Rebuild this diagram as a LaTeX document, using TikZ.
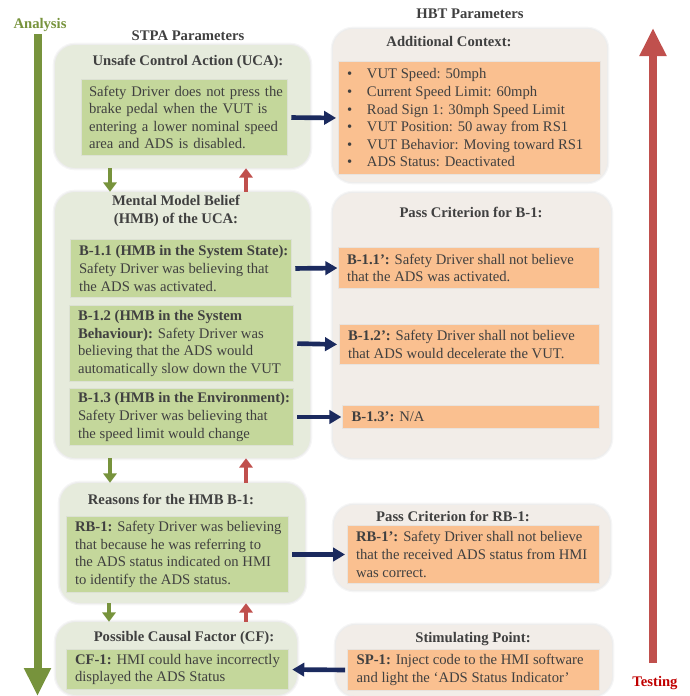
\documentclass[tikz,border=0pt]{standalone}
\usepackage{fontspec}
\setmainfont{Liberation Serif}
\usetikzlibrary{arrows.meta,fit}
\definecolor{ink}{HTML}{404040}
\definecolor{stpaPanel}{HTML}{E6EBDC}
\definecolor{stpaCell}{HTML}{C4D79B}
\definecolor{hbtPanel}{HTML}{F2EDE8}
\definecolor{hbtCell}{HTML}{FAC090}
\definecolor{navy}{HTML}{1B2A5E}
\definecolor{olive}{HTML}{77933C}
\definecolor{brick}{HTML}{C0504D}
\definecolor{testred}{HTML}{C00000}
\begin{document}
\begin{tikzpicture}[x=0.75pt,y=-0.75pt,
  every node/.style={font=\fontsize{11}{13.2}\selectfont, text=ink},
  % soft edge round the rounded panels
  halo/.style={preaction={draw=black, draw opacity=0.035, line width=3.5pt},
               preaction={draw=black, draw opacity=0.035, line width=1.8pt}},
  panel/.style={rounded corners=15pt, inner sep=0pt, halo},
  stpa/.style={panel, fill=stpaPanel},
  hbt/.style={panel, fill=hbtPanel},
  scell/.style={inner sep=0pt, fill=stpaCell, preaction={draw=black, draw opacity=0.04, line width=1.2pt}},
  hcell/.style={inner sep=0pt, fill=hbtCell, preaction={draw=black, draw opacity=0.04, line width=1.2pt}},
  txt/.style={inner sep=0pt, align=left, anchor=west},
  title/.style={font=\fontsize{11}{13.2}\selectfont\bfseries, align=center, inner sep=0pt},
  flowdown/.style={draw=olive, line width=3.5pt, -{Triangle[width=10pt,length=7pt]}},
  flowup/.style={draw=brick, line width=3.5pt, -{Triangle[width=10pt,length=7pt]}},
  link/.style={draw=navy, line width=3.5pt, -{Triangle[width=10pt,length=9pt]}},
  bigarrow/.style={line width=6pt, -{Triangle[width=19pt,length=21pt]}},
]
\useasboundingbox (0,0) rectangle (689,696);

% column headings and the two long arrows
\node[title] (stpaHead) at (188,36) {STPA Parameters};
\node[title] (hbtHead) at (470,14) {HBT Parameters};
\node[title, text=olive] (anaLbl) at (40,25) {Analysis};
\node[title, text=testred] (tstLbl) at (655,683) {Testing};
\coordinate (anaTop) at (37.5,34);
\coordinate (anaTip) at (37.5,696);
\coordinate (tstBase) at (653,663);
\coordinate (tstTip) at (653,28);
\draw[bigarrow, draw=olive] (anaTop) -- (anaTip);
\draw[bigarrow, draw=brick] (tstBase) -- (tstTip);

% ---------- STPA panels ----------
\node[stpa, fit={(55,45) (310,168)}] (uca) {};
\node[title] (ucaT) at (188,62) {Unsafe Control Action (UCA):};
\node[scell, fit={(82,80) (287,155)}] (ucab) {};
\node[txt, text width=147pt] (ucabT) at ([xshift=5.25pt]ucab.west) {%
  \makebox[\linewidth][s]{Safety Driver does not press the}\\
  \makebox[\linewidth][s]{brake pedal when the VUT is}\\
  \makebox[\linewidth][s]{entering a lower nominal speed}\\
  area and ADS is disabled.};

\node[stpa, fit={(55,192) (310,458)}] (hmb) {};
\node[title] (hmbT) at (176,211) {Mental Model Belief\\(HMB) of the UCA:};
\node[scell, fit={(71,240) (291,297)}] (b11) {};
\node[txt] (b11T) at ([xshift=6pt]b11.west) {%
  \textbf{B-1.1 (HMB in the System State):}\\
  Safety Driver was believing that\\
  the ADS was activated.};
\node[scell, fit={(70,306) (293,381)}] (b12) {};
\node[txt] (b12T) at ([xshift=6pt]b12.west) {%
  \textbf{B-1.2 (HMB in the System}\\
  \textbf{Behaviour):} Safety Driver was\\
  believing that the ADS would\\
  automatically slow down the VUT};
\node[scell, fit={(70,389) (293,445)}] (b13) {};
\node[txt] (b13T) at ([xshift=6pt]b13.west) {%
  \textbf{B-1.3 (HMB in the Environment):}\\
  Safety Driver was believing that\\
  the speed limit would change};

\node[stpa, fit={(60,483) (305,603)}] (rsn) {};
\node[title] (rsnT) at (171,499) {Reasons for the HMB B-1:};
\node[scell, fit={(67,517) (288,592)}] (rb1) {};
\node[txt] (rb1T) at ([xshift=6pt]rb1.west) {%
  \textbf{RB-1:} Safety Driver was believing\\
  that because he was referring to\\
  the ADS status indicated on HMI\\
  to identify the ADS status.};

\node[stpa, fit={(56,622) (297,695)}] (cf) {};
\node[title] (cfT) at (184,638) {Possible Causal Factor (CF):};
\node[scell, fit={(67,650) (288,689)}] (cf1) {};
\node[txt] (cf1T) at ([xshift=6pt]cf1.west) {%
  \textbf{CF-1:} HMI could have incorrectly\\
  displayed the ADS Status};

% ---------- HBT panels ----------
\node[hbt, fit={(333,29) (607,182)}] (ctx) {};
\node[title] (ctxT) at (449,42) {Additional Context:};
\node[hcell, fit={(339,62) (600,174)}] (ctxb) {};
\node[txt] (ctxbT) at ([xshift=6pt]ctxb.west) {%
  \makebox[15pt][l]{\textbullet}VUT Speed: 50mph\\
  \makebox[15pt][l]{\textbullet}Current Speed Limit: 60mph\\
  \makebox[15pt][l]{\textbullet}Road Sign 1: 30mph Speed Limit\\
  \makebox[15pt][l]{\textbullet}VUT Position: 50 away from RS1\\
  \makebox[15pt][l]{\textbullet}VUT Behavior: Moving toward RS1\\
  \makebox[15pt][l]{\textbullet}ADS Status: Deactivated};

\node[hbt, fit={(333,193) (611,458)}] (pc1) {};
\node[title] (pc1T) at (471,212) {Pass Criterion for B-1:};
\node[hcell, fit={(339,248) (599,288)}] (b11p) {};
\node[txt] (b11pT) at ([xshift=6pt]b11p.west) {%
  \textbf{B-1.1’:} Safety Driver shall not believe\\
  that the ADS was activated.};
\node[hcell, fit={(340,325) (599,364)}] (b12p) {};
\node[txt] (b12pT) at ([xshift=6pt]b12p.west) {%
  \textbf{B-1.2’:} Safety Driver shall not believe\\
  that ADS would decelerate the VUT.};
\node[hcell, fit={(343,406) (599,428)}] (b13p) {};
\node[txt] (b13pT) at ([xshift=6.5pt]b13p.west) {\textbf{B-1.3’:} N/A};

\node[hbt, fit={(334,505) (610,590)}] (pcr) {};
\node[title] (pcrT) at (453,516) {Pass Criterion for RB-1:};
\node[hcell, fit={(348,526) (599,583)}] (rb1p) {};
\node[txt] (rb1pT) at ([xshift=6pt]rb1p.west) {%
  \textbf{RB-1’:} Safety Driver shall not believe\\
  that the received ADS status from HMI\\
  was correct.};

\node[hbt, fit={(336,625) (612,696)}] (sp) {};
\node[title] (spT) at (473,639) {Stimulating Point:};
\node[hcell, fit={(348,650) (599,690)}] (sp1) {};
\node[txt] (sp1T) at ([xshift=6.5pt]sp1.west) {%
  \textbf{SP-1:} Inject code to the HMI software\\
  and light the ‘ADS Status Indicator’};

% ---------- connectors ----------
\coordinate (gx) at (110,0);
\coordinate (gx2) at (109,0);
\coordinate (rx) at (246,0);
\draw[flowdown] (uca.south -| gx) -- (hmb.north -| gx);
\draw[flowup] (hmb.north -| rx) -- (uca.south -| rx);
\draw[flowdown] (hmb.south -| gx) -- (rsn.north -| gx);
\draw[flowup] (rsn.north -| rx) -- (hmb.south -| rx);
\draw[flowdown] (rsn.south -| gx2) -- (cf.north -| gx2);
\draw[flowup] (cf.north -| rx) -- (rsn.south -| rx);

\draw[link, shorten <=3pt, shorten >=2pt] (ucab.east) -- (ctxb.west);
\draw[link, shorten <=3pt, shorten >=1pt] (b11.east) -- (b11p.west);
\draw[link, shorten <=3pt, shorten >=2pt] (b12.east) -- (b12p.west);
\draw[link, shorten <=3pt, shorten >=1pt] (b13.east) -- (b13p.west);
\draw[link, shorten <=3pt, shorten >=2pt] (rb1.east) -- (rb1p.west);
\draw[link, shorten <=2pt, shorten >=3pt] (sp1.west) -- (cf1.east);
\end{tikzpicture}
\end{document}
